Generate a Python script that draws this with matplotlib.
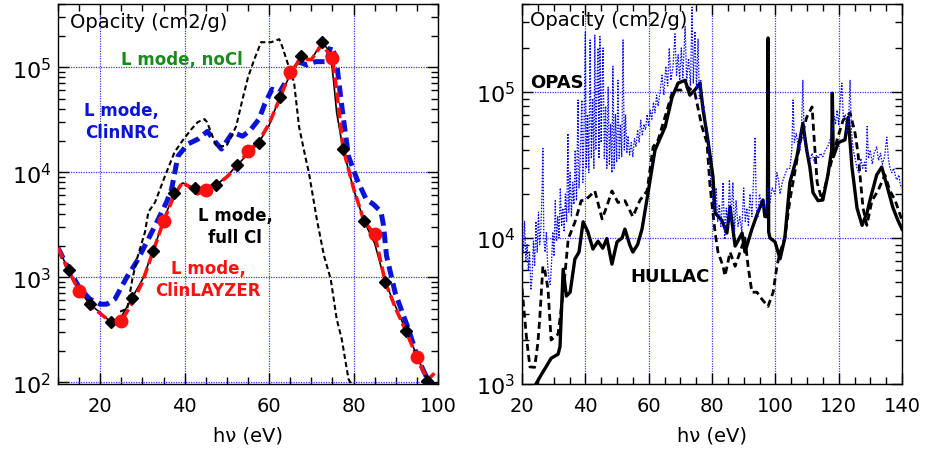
import matplotlib
matplotlib.use("Agg")
import matplotlib.pyplot as plt
from matplotlib.ticker import LogLocator, MultipleLocator, NullFormatter

# ---- left panel: L-mode opacities ----
nocl_e = [24.7, 26.4, 27.6, 28.7, 30.6, 31.4, 33, 35.3, 37.6, 39.5, 41.6, 43.1, 44.7, 45.3, 47.5,
          49.9, 52.2, 53.7, 55, 56.5, 58.1, 60.5, 62.4, 63.1, 64.3, 65.9, 67.1, 68.7, 69.4, 70.5,
          71.3, 73, 74.6, 76, 77.2, 78.8, 79.5]
nocl_k = [470, 500, 955, 1490, 2690, 4170, 5180, 9100, 15500, 20000, 25700, 30000, 32000, 30000, 17700,
          17700, 27400, 49500, 80000, 119000, 173000, 173000, 185000, 158000, 112000, 72000, 27000, 13300, 10000, 5500,
          3560, 1600, 955, 400, 257, 107, 95]

nrc_e = [10, 12.5, 15, 17.5, 20, 21.6, 23.5, 26.3, 28.7, 31, 33.4, 35.7, 36.9, 38.4, 40.7, 43.1, 45.4,
         47, 48.7, 51.4, 53.7, 55.5, 57.6, 59, 60.7, 62.4, 64.7, 67, 69, 71, 73.6, 74.6, 75.8, 77.3,
         78.8, 80.8, 83, 84.7, 86.5, 87.1, 87.8, 89.9, 93, 95.3, 97.6, 100]
nrc_k = [1900, 1200, 800, 620, 553, 553, 620, 1000, 1420, 2150, 3340, 5180, 6890, 14200, 18500, 20600, 24500,
         20000, 16600, 24000, 22000, 25000, 32000, 45000, 61700, 57000, 82000, 112000, 105000, 113000, 113000, 158000, 127000, 40000,
         14200, 8570, 5500, 4950, 4200, 3100, 1600, 700, 320, 166, 105, 85]

fullci_e = [10, 12.5, 15, 17.5, 20, 22.5, 25, 27.5, 30, 32.5, 35, 37.5, 39.5, 42.5, 45, 47.5, 50, 52.5,
            55, 57.5, 60, 62.5, 65, 67.5, 70, 72.5, 74.5, 75.3, 76, 77.5, 80, 82.5, 85, 87.5, 90, 92.5,
            95, 97.5, 100]
fullci_k = [1900, 1170, 760, 553, 460, 373, 420, 631, 950, 1770, 3500, 6300, 7900, 7050, 7000, 7500, 9200, 11700,
            15000, 18900, 28000, 51800, 85000, 127000, 118000, 173000, 140000, 72000, 37000, 16600, 6900, 3410, 2100, 896, 520, 306,
            180, 102, 95]

layzer_e = [10, 12.5, 15, 17.5, 20, 22.5, 25, 27.5, 30, 32.5, 35, 37.5, 39.5, 41, 43, 45, 47.5, 50, 52.5,
            55, 57.5, 60, 62.5, 65, 67.5, 70, 72.5, 75, 76, 77.5, 80, 82.5, 85, 87.5, 90, 92.5, 95, 97.5, 99.5]
layzer_k = [1900, 1150, 736, 540, 450, 375, 381, 560, 900, 1750, 3410, 6000, 8000, 7300, 6200, 6740, 7500, 9000, 11500,
            15800, 19500, 29000, 50000, 89600, 120000, 118000, 165000, 122000, 60000, 17000, 7000, 3400, 2570, 900, 500, 300, 173, 105, 125]

# ---- right panel: OPAS vs HULLAC ----
hs_e = [24.4, 26, 27.5, 29.2, 31.4, 32, 33, 34, 35.2, 36.7, 38, 39.3, 40.8, 42.4, 44, 45.5, 46.8, 48.4, 50,
        51.6, 52.5, 54, 55, 56.5, 57.9, 59.5, 62, 65.2, 67.4, 69.3, 71.5, 73, 74.6, 76.2, 77.2, 78.7, 80.3,
        81, 83.1, 84.7, 85.7, 87.3, 89.5, 90.4, 92.6, 94.5, 96.1, 96.7, 97.5, 97.7, 97.9, 98.3, 99.9, 101.5,
        103, 104.6, 106.8, 108.7, 109.9, 110.9, 111.9, 113.5, 115, 116.6, 117.8, 118, 118.3, 119.9, 122, 123,
        124.2, 125.8, 127.4, 129, 129.9, 132, 133.6, 135.2, 137.1, 138.7, 140]
hs_k = [1000, 1150, 1300, 1500, 1600, 1800, 6100, 4000, 4250, 7170, 8000, 12900, 11000, 8400, 9500, 8500, 9900, 6620, 9400,
        10000, 11500, 9000, 8000, 9000, 11500, 18600, 40000, 57600, 92000, 115000, 120000, 95000, 103000, 115000, 75000, 47000, 26200,
        14800, 13200, 10800, 16300, 8800, 10800, 8000, 11500, 15000, 18200, 14000, 14000, 234000, 11000, 10000, 9400, 7200,
        10000, 24000, 36000, 61000, 40000, 30600, 20400, 18000, 18200, 27000, 40000, 98000, 36000, 45000, 47000, 67000,
        30600, 16000, 12200, 15000, 18200, 27000, 30600, 23000, 16200, 13200, 11500]

hd_e = [20, 21.5, 22.5, 24, 25, 25.6, 26.6, 27.2, 28.2, 29.2, 31.4, 33, 34.6, 36.7, 38.7, 40, 41.5, 43, 45.3,
        46.8, 48.4, 50.3, 52.5, 55, 57.3, 59.5, 61.4, 63, 65.8, 67.7, 70.5, 72.4, 74.6, 76.8, 78.4, 79.4, 81,
        81.9, 83.5, 84.1, 85.7, 87.3, 89.5, 90.4, 91.4, 92.6, 94.2, 95.8, 97.7, 99.3, 100.5, 101.5, 103, 104.6,
        107.8, 109.9, 111.6, 112.5, 113.2, 114.7, 116.6, 119.5, 121.4, 123.6, 125.2, 126.1, 127.7, 128.9, 130.5,
        132.4, 134.6, 136.2, 137.8, 140]
hd_k = [4500, 2000, 1310, 1300, 1900, 2800, 6400, 6000, 4500, 2000, 2200, 4200, 9850, 12800, 18000, 18200, 19500, 21000, 13500,
        16500, 21000, 17500, 18000, 14000, 18200, 21000, 42000, 47000, 75000, 103000, 103000, 108000, 98000, 58000, 45000, 22400, 10800,
        8000, 6400, 5500, 8000, 6400, 8800, 10000, 6400, 4250, 4250, 3800, 3400, 4250, 6400, 8000, 10000, 18200,
        45000, 67000, 79000, 40000, 24000, 18200, 27000, 47000, 64000, 72000, 52000, 38000, 16000, 12200, 18000,
        21000, 27000, 21000, 18200, 13200]

opas_e = [20.0, 20.4, 20.8, 21.2, 21.6, 22.0, 22.4, 22.8, 23.2, 23.6, 24.0, 24.4, 24.8, 25.2, 25.6, 26.0, 26.3,
          26.6, 26.9, 27.3, 27.7, 28.1, 28.5, 28.9, 29.3, 29.7, 30.1, 30.5, 30.9, 31.3, 31.7, 32.1, 32.5, 32.9,
          33.3, 33.7, 34.1, 34.5, 34.8, 35.2, 35.6, 36.0, 36.4, 36.8, 37.2, 37.7, 38.0, 38.4, 38.9, 39.2, 39.6,
          40.0, 40.3, 40.7, 41.1, 41.5, 41.9, 42.3, 42.7, 43.0, 43.3, 43.7, 44.0, 44.3, 44.6, 45.0, 45.3, 45.6,
          46.0, 46.4, 46.8, 47.2, 47.6, 48.0, 48.4, 48.7, 49.1, 49.5, 49.9, 50.3, 50.7, 51.1, 51.5, 51.9, 52.3,
          52.7, 53.1, 53.5, 54.0, 54.5, 55.0, 55.5, 56.0, 56.5, 57.0, 57.5, 58.0, 58.5, 59.0, 59.5, 60.0, 60.5,
          61.0, 61.5, 62.0, 62.5, 63.0, 63.6, 64.2, 64.8, 65.4, 66.0, 66.5, 67.0, 67.7, 68.3, 68.8, 69.3, 69.8,
          70.3, 70.8, 71.5, 72.0, 72.6, 73.2, 73.7, 74.1, 74.6, 75.1, 75.6, 76.0, 76.5, 77.0, 77.5, 78.0, 78.4,
          78.9, 79.4, 79.9, 80.3, 80.8, 81.3, 81.8, 82.3, 82.8, 83.1, 83.5, 84.0, 84.5, 85.0, 85.5, 86.0, 86.6,
          87.1, 87.6, 88.2, 88.8, 89.4, 90.0, 90.5, 91.0, 91.5, 92.0, 92.6, 93.2, 93.6, 94.0, 94.5, 95.0, 95.8,
          96.4, 97.0, 97.6, 98.3, 99.0, 99.9, 100.5, 101.0, 101.5, 102.2, 103.0, 103.8, 104.6, 105.2, 105.6,
          106.0, 106.6, 107.2, 107.8, 108.3, 108.7, 109.1, 109.6, 110.3, 111.0, 111.6, 112.3, 113.0, 113.6,
          114.2, 115.0, 115.8, 116.5, 117.3, 118.0, 118.6, 119.0, 119.5, 120.0, 120.5, 121.0, 121.5, 122.1,
          122.6, 123.1, 123.6, 124.0, 124.6, 125.2, 125.8, 126.4, 127.0, 127.6, 128.2, 128.6, 129.0, 129.4,
          130.0, 130.6, 131.2, 132.0, 132.6, 133.2, 133.8, 134.5, 135.2, 135.7, 136.2, 136.8, 137.4, 138.0,
          138.4, 139.0, 139.5, 140.0]
opas_k = [11000, 8000, 13000, 7000, 9000, 6000, 8000, 4400, 5500, 9500, 6500, 13000, 8000, 15000, 9000, 12000, 20000,
          41000, 10000, 8000, 11000, 6500, 5200, 4800, 6500, 11000, 7500, 18000, 9500, 14000, 10000, 22000, 12000, 16000,
          11000, 20000, 13000, 52000, 15000, 28000, 14000, 24000, 17000, 40000, 18000, 88000, 22000, 35000, 88000, 24000, 60000,
          257000, 30000, 70000, 28000, 227000, 35000, 90000, 30000, 245000, 40000, 120000, 200000, 35000, 240000, 45000, 110000, 200000,
          35000, 80000, 30000, 108000, 32000, 60000, 28000, 150000, 30000, 70000, 33000, 120000, 35000, 60000, 36000, 227000, 40000,
          70000, 38000, 50000, 37000, 45000, 36000, 48000, 42000, 55000, 45000, 64000, 50000, 60000, 55000, 70000, 58000, 75000,
          65000, 85000, 72000, 95000, 80000, 100000, 130000, 95000, 150000, 110000, 200000, 120000, 150000, 250000, 130000, 180000, 120000,
          200000, 125000, 280000, 120000, 170000, 110000, 380000, 115000, 260000, 105000, 230000, 90000, 120000, 75000, 80000, 60000, 58000,
          40000, 28000, 22000, 18000, 16000, 22000, 13000, 17000, 12000, 15000, 24000, 9800, 16000, 12000, 25000, 13000, 24000,
          11000, 18000, 12000, 14000, 11000, 22000, 13000, 16000, 12000, 20000, 14000, 28000, 49000, 16000, 14000, 20000, 16000,
          18000, 15000, 22000, 17500, 22000, 20000, 28000, 25000, 20000, 24000, 27000, 30000, 30000, 40000, 88000,
          45000, 52000, 42000, 40000, 60000, 120000, 48000, 42000, 36000, 34000, 38000, 33000, 37000, 35000,
          38000, 36000, 40000, 42000, 47000, 55000, 68000, 60000, 75000, 60000, 85000, 115000, 65000, 70000,
          52000, 60000, 120000, 55000, 40000, 35000, 30000, 28000, 35000, 30000, 33000, 28000, 58000, 35000,
          40000, 32000, 38000, 42000, 34000, 38000, 32000, 36000, 49000, 35000, 30000, 28000, 30000, 26000,
          25000, 27000, 23000, 22000]

plt.rcParams['font.family'] = ['DejaVu Sans']
plt.rcParams['mathtext.fontset'] = 'dejavusans'

grid_blue = "#3a3aff"


def style_axis(ax, xmin, xmax, ymin, ymax):
    ax.set_yscale("log")
    ax.set_xlim(xmin, xmax)
    ax.set_ylim(ymin, ymax)
    ax.xaxis.set_major_locator(MultipleLocator(20))
    ax.xaxis.set_minor_locator(MultipleLocator(5))
    ax.yaxis.set_major_locator(LogLocator(base=10))
    ax.yaxis.set_minor_locator(LogLocator(base=10, subs=range(2, 10)))
    ax.yaxis.set_minor_formatter(NullFormatter())
    ax.tick_params(which="both", direction="in", top=True, right=True, width=1)
    ax.tick_params(which="major", length=8)
    ax.tick_params(which="minor", length=5)
    ax.tick_params(axis="x", labelsize=14, pad=9)
    ax.tick_params(axis="y", labelsize=16, pad=5)
    ax.grid(True, which="major", color=grid_blue, linestyle=(0, (1, 1)), linewidth=0.9)
    for sp in ax.spines.values():
        sp.set_linewidth(1.0)
    ax.set_xlabel("h\u03bd (eV)", fontsize=14, labelpad=7)


fig = plt.figure(figsize=(9.26, 4.52), dpi=100)
ax1 = fig.add_axes([58 / 926, 1 - 385 / 452, 380 / 926, 380 / 452])
ax2 = fig.add_axes([522 / 926, 1 - 385 / 452, 380 / 926, 380 / 452])

# left
style_axis(ax1, 10, 100, 96, 4e5)
ax1.plot(nrc_e, nrc_k, color="#0a14d8", lw=3.6, dashes=(2.3, 1.2), zorder=3)
ax1.plot(nocl_e, nocl_k, color="black", lw=1.5, dashes=(2.5, 1.5), zorder=3)
ax1.plot(fullci_e, fullci_k, color="black", lw=1.2, zorder=4)
ax1.plot(layzer_e, layzer_k, color="#ff1010", lw=2.6, dashes=(3, 1.2), zorder=5)
dia = [i for i, e in enumerate(fullci_e) if (e - 2.5) % 5 == 0]
ax1.plot([fullci_e[i] for i in dia], [fullci_k[i] for i in dia], "D", color="black", ms=6.5, zorder=6)
circ = [i for i, e in enumerate(layzer_e) if e % 10 == 5]
ax1.plot([layzer_e[i] for i in circ], [layzer_k[i] for i in circ], "o", color="#ff1010", ms=9, zorder=7)

ax1.text(0.032, 0.955, "Opacity (cm2/g)", transform=ax1.transAxes, fontsize=14, va="center", ha="left")
ax1.text(0.326, 0.855, "L mode, noCl", transform=ax1.transAxes, fontsize=12, fontweight="bold",
         color="#1a8a1a", ha="center", va="center")
ax1.text(0.168, 0.692, "L mode,\nClinNRC", transform=ax1.transAxes, fontsize=12, fontweight="bold",
         color="#0a14d8", ha="center", va="center", linespacing=1.3)
ax1.text(0.466, 0.416, "L mode,\nfull Cl", transform=ax1.transAxes, fontsize=12, fontweight="bold",
         color="black", ha="center", va="center", linespacing=1.3)
ax1.text(0.395, 0.276, "L mode,\nClinLAYZER", transform=ax1.transAxes, fontsize=12, fontweight="bold",
         color="#ff1010", ha="center", va="center", linespacing=1.3)

# right
style_axis(ax2, 20, 140, 1000, 4e5)
ax2.plot(hd_e, hd_k, color="black", lw=2.0, dashes=(2.5, 1.5), zorder=3)
ax2.plot(hs_e, hs_k, color="black", lw=2.4, zorder=4)
ax2.plot(opas_e, opas_k, color="#0000ff", lw=0.9, linestyle=(0, (1.2, 1.2)), zorder=5)

ax2.text(0.021, 0.96, "Opacity (cm2/g)", transform=ax2.transAxes, fontsize=14, va="center", ha="left")
ax2.text(0.021, 0.795, "OPAS", transform=ax2.transAxes, fontsize=13, fontweight="bold", va="center", ha="left")
ax2.text(0.284, 0.284, "HULLAC", transform=ax2.transAxes, fontsize=13, fontweight="bold", va="center", ha="left")

fig.savefig("out.png", dpi=100)
